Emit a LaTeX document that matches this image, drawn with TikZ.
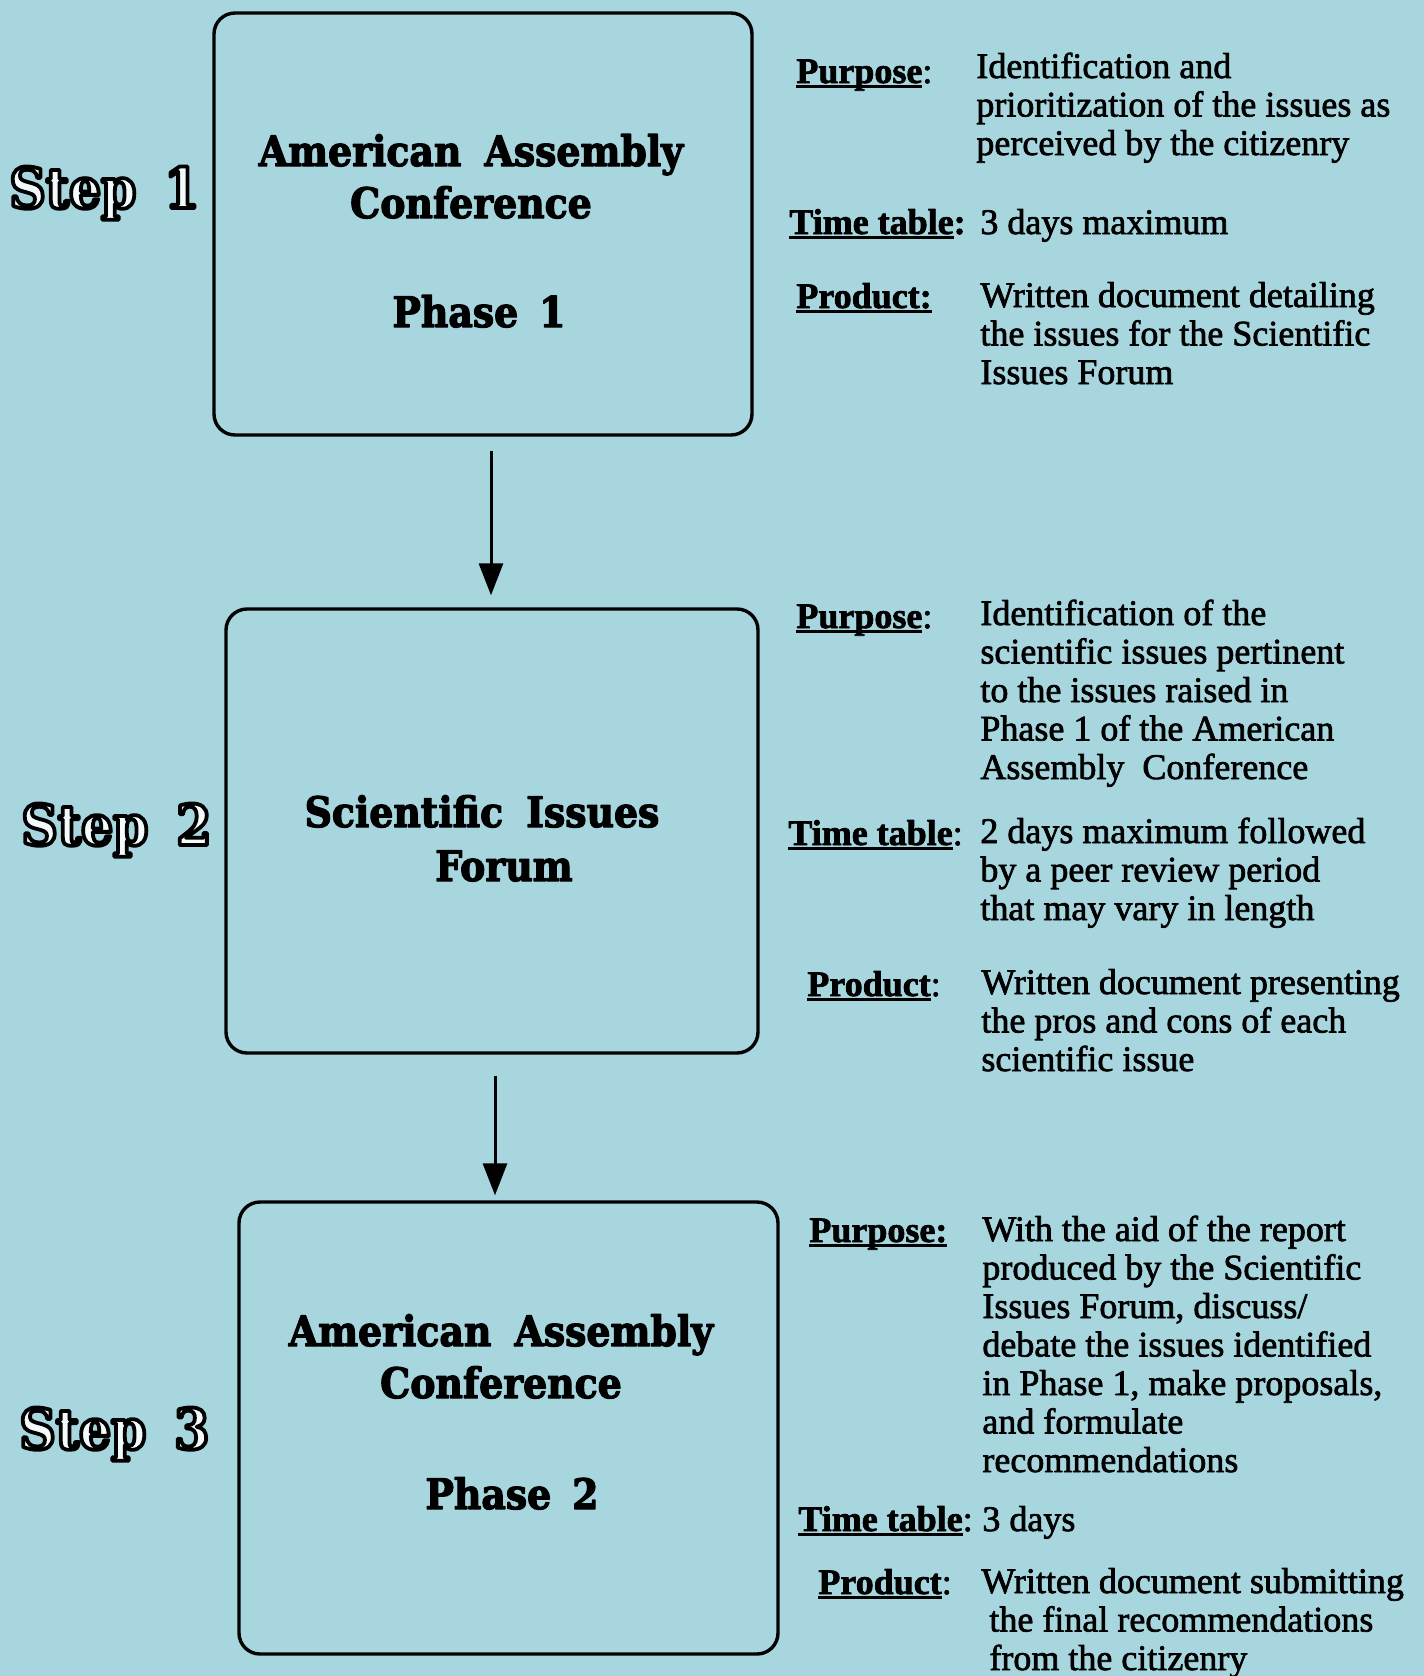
\documentclass[tikz,border=0pt]{standalone}
\usepackage{fontspec}
\setmainfont{Liberation Serif}
\newfontfamily\boxfont[FakeStretch=0.9]{DejaVu Serif}
\usetikzlibrary{arrows.meta}
\definecolor{bg}{HTML}{A7D6DF}
\newcommand\ulbl[1]{\setbox0\hbox{#1}\rlap{\rule[-2.6pt]{\wd0}{1.8pt}}\box0}
\newcommand\lines[1]{\begin{tabular}[t]{@{}l@{}}#1\end{tabular}}
\newcommand\clines[1]{\begin{tabular}[t]{@{}c@{}}#1\end{tabular}}
\newcommand\outl[1]{\special{pdf:literal direct 2 Tr 1.9 w 1 j 0 0 0 RG 0.95 0.98 0.99 rg}#1\special{pdf:literal direct 0 Tr 0 g 0 G}}
\newcommand\heavy[2]{\special{pdf:literal direct 2 Tr #1 w 1 j 0 0 0 RG 0 0 0 rg}#2\special{pdf:literal direct 0 Tr}}
\begin{document}
\begin{tikzpicture}[x=0.5pt,y=-0.5pt,
  box/.style={draw=black, line width=1.7pt, rounded corners=10.5pt, inner sep=0pt},
  boxtxt/.style={font=\boxfont\bfseries\fontsize{21}{26}\selectfont, anchor=base, inner sep=0pt},
  steplbl/.style={font=\boxfont\bfseries\fontsize{28}{30}\selectfont, anchor=base west, inner sep=0pt},
  lbl/.style={font=\bfseries\fontsize{18}{19.25}\selectfont, anchor=base west, inner sep=0pt},
  desc/.style={font=\fontsize{18}{19.25}\selectfont, anchor=base west, inner sep=0pt},
  arr/.style={line width=1.5pt, -{Triangle[length=16pt,width=12pt]}}]
\fill[bg] (0,0) rectangle (1424,1676);
\useasboundingbox (0,0) rectangle (1424,1676);
% boxes
\node[box, minimum width=269pt, minimum height=211pt] (b1) at (483,224) {};
\node[box, minimum width=266pt, minimum height=222pt] (b2) at (492,831) {};
\node[box, minimum width=269.5pt, minimum height=226pt] (b3) at (508.5,1428) {};
% arrows
\coordinate (a1) at (491,0);
\coordinate (a2) at (495,0);
\draw[arr, shorten <=7pt, shorten >=6pt] (b1.south -| a1) -- (b2.north -| a1);
\draw[arr, shorten <=10.5pt, shorten >=2.5pt] (b2.south -| a2) -- (b3.north -| a2);
% step labels
\node[steplbl] (s1) at (9,208) {\outl{Step\hspace{0.5em}1}};
\node[steplbl] (s2) at (21,845) {\outl{Step\hspace{0.5em}2}};
\node[steplbl] (s3) at (19,1449) {\outl{Step\hspace{0.5em}3}};
% box texts
\node[boxtxt] (b1a) at (471,166) {\heavy{0.6}{\clines{American\hspace{.55em}Assembly\\Conference}}};
\node[boxtxt] (b1b) at (479,327) {\heavy{0.6}{Phase\hspace{.5em}1}};
\node[boxtxt] (b2a) at (482,827) {\heavy{0.6}{Scientific\hspace{.55em}Issues}};
\node[boxtxt] (b2b) at (504,881) {\heavy{0.6}{Forum}};
\node[boxtxt] (b3a) at (501,1346) {\heavy{0.6}{\clines{American\hspace{.55em}Assembly\\Conference}}};
\node[boxtxt] (b3b) at (512,1509) {\heavy{0.6}{Phase\hspace{.5em}2}};
% block 1
\node[lbl] (p1l) at (796,83) {\heavy{0.35}{\ulbl{Purpose}{\mdseries:}}};
\node[desc] (p1t) at (976,78) {\heavy{0.35}{\lines{Identification and\\prioritization of the issues as\\perceived by the citizenry}}};
\node[lbl] (t1l) at (789,234) {\heavy{0.35}{\ulbl{Time table}:}};
\node[desc] (t1t) at (980,234) {\heavy{0.35}{3 days maximum}};
\node[lbl] (r1l) at (796,308) {\heavy{0.35}{\ulbl{Product:}}};
\node[desc] (r1t) at (980,307) {\heavy{0.35}{\lines{Written document detailing\\the issues for the Scientific\\Issues Forum}}};
% block 2
\node[lbl] (p2l) at (796,628) {\heavy{0.35}{\ulbl{Purpose}{\mdseries:}}};
\node[desc] (p2t) at (980,625) {\heavy{0.35}{\lines{Identification of the\\scientific issues pertinent\\to the issues raised in\\Phase 1 of the American\\Assembly\ \ Conference}}};
\node[lbl] (t2l) at (788,845) {\heavy{0.35}{\ulbl{Time table}{\mdseries:}}};
\node[desc] (t2t) at (980,843) {\heavy{0.35}{\lines{2 days maximum followed\\by a peer review period\\that may vary in length}}};
\node[lbl] (r2l) at (807,996) {\heavy{0.35}{\ulbl{Product}{\mdseries:}}};
\node[desc] (r2t) at (981,994) {\heavy{0.35}{\lines{Written document presenting\\the pros and cons of each\\scientific issue}}};
% block 3
\node[lbl] (p3l) at (809,1242) {\heavy{0.35}{\ulbl{Purpose:}}};
\node[desc] (p3t) at (982,1241) {\heavy{0.35}{\lines{With the aid of the report\\produced by the Scientific\\Issues Forum, discuss/\\debate the issues identified\\in Phase 1, make proposals,\\and formulate\\recommendations}}};
\node[lbl] (t3l) at (798,1531) {\heavy{0.35}{\ulbl{Time table}{\mdseries:}}};
\node[desc] (t3t) at (982,1531) {\heavy{0.35}{3 days}};
\node[lbl] (r3l) at (818,1594) {\heavy{0.35}{\ulbl{Product}{\mdseries:}}};
\node[desc] (r3t) at (981,1593) {\heavy{0.35}{\lines{Written document submitting\\\hspace*{4pt}the final recommendations\\\hspace*{4pt}from the citizenry}}};
\end{tikzpicture}
\end{document}
